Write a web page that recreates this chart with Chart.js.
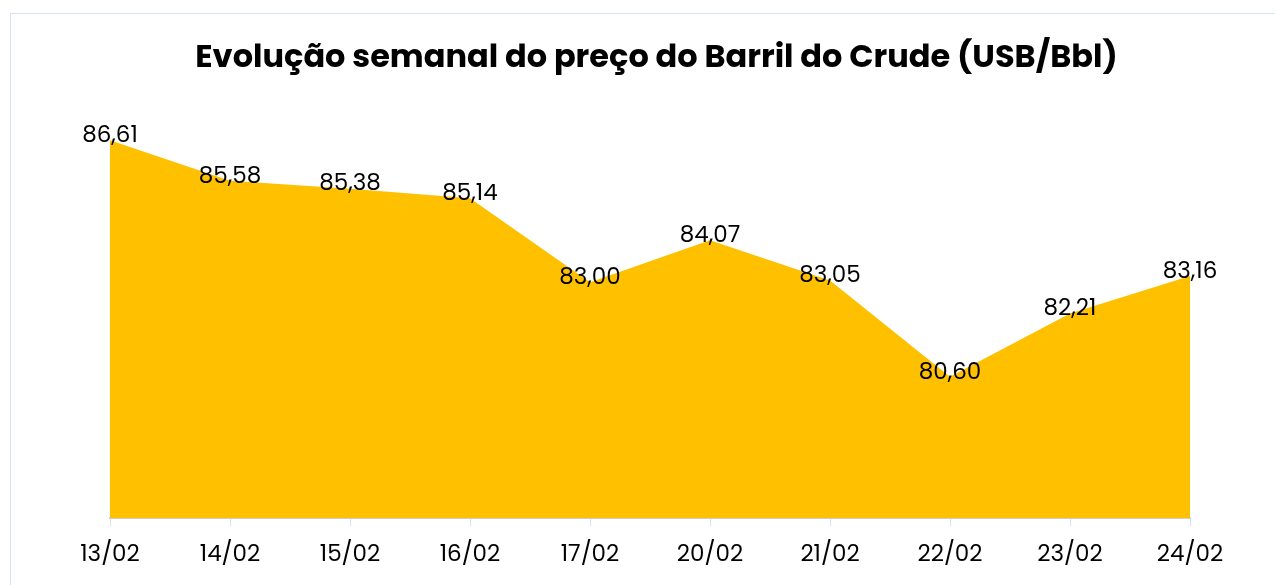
<!DOCTYPE html>
<html>
<head>
<meta charset="utf-8">
<script src="https://cdn.jsdelivr.net/npm/chart.js@4"></script>
<style>
  html, body { margin: 0; padding: 0; background: #ffffff; overflow: hidden; }
  #wrap { position: relative; width: 1275px; height: 585px; }
  #frame { position: absolute; left: 10px; top: 13px; width: 1300px; height: 620px;
           border: 1px solid #d5e3f3; box-sizing: border-box; pointer-events: none; }
  canvas { position: absolute; left: 0; top: 0; }
</style>
</head>
<body>
<div id="wrap">
  <canvas id="c" width="1275" height="585"></canvas>
  <div id="frame"></div>
</div>
<script>
const categories = ["13/02", "14/02", "15/02", "16/02", "17/02", "20/02", "21/02", "22/02", "23/02", "24/02"];
const prices = [86.61, 85.58, 85.38, 85.14, 83.00, 84.07, 83.05, 80.60, 82.21, 83.16];
const chartTitle = "Evolução semanal do preço do Barril do Crude (USB/Bbl)";
const yMin = 77;
const yMax = 87;

const FONT = "Poppins, Inter, 'Open Sans', sans-serif";

const titlePlugin = {
  id: 'titleText',
  afterDraw(chart) {
    const ctx = chart.ctx;
    ctx.save();
    ctx.font = "bold 32px " + FONT;
    ctx.fillStyle = "#000000";
    ctx.textAlign = "center";
    ctx.textBaseline = "middle";
    ctx.fillText(chartTitle, 656.5, 59);
    ctx.restore();
  }
};

const valueLabels = {
  id: 'valueLabels',
  afterDatasetsDraw(chart) {
    const ctx = chart.ctx;
    const meta = chart.getDatasetMeta(0);
    ctx.save();
    ctx.font = "400 23px " + FONT;
    ctx.fillStyle = "#000000";
    ctx.textAlign = "center";
    ctx.textBaseline = "middle";
    meta.data.forEach((pt, i) => {
      const txt = prices[i].toFixed(2).replace('.', ',');
      ctx.fillText(txt, pt.x, pt.y - 4);
    });
    ctx.restore();
  }
};

new Chart(document.getElementById('c'), {
  type: 'line',
  data: {
    labels: categories,
    datasets: [{
      data: prices,
      backgroundColor: '#FFC000',
      borderColor: 'rgba(0,0,0,0)',
      borderWidth: 0,
      fill: 'start',
      pointRadius: 0,
      tension: 0
    }]
  },
  options: {
    responsive: false,
    animation: false,
    layout: { padding: { left: 110, right: 85, top: 125, bottom: 1 } },
    plugins: {
      legend: { display: false },
      tooltip: { enabled: false },
      title: { display: false }
    },
    scales: {
      x: {
        offset: false,
        grid: {
          display: true,
          drawOnChartArea: false,
          drawTicks: true,
          tickLength: 8,
          color: '#d5e3f3'
        },
        border: { display: true, color: '#c9d3df', width: 2 },
        ticks: {
          color: '#000000',
          font: { family: FONT, size: 23 },
          padding: 15,
          maxRotation: 0,
          autoSkip: false
        }
      },
      y: {
        display: false,
        min: yMin,
        max: yMax
      }
    }
  },
  plugins: [valueLabels, titlePlugin]
});
</script>
</body>
</html>
